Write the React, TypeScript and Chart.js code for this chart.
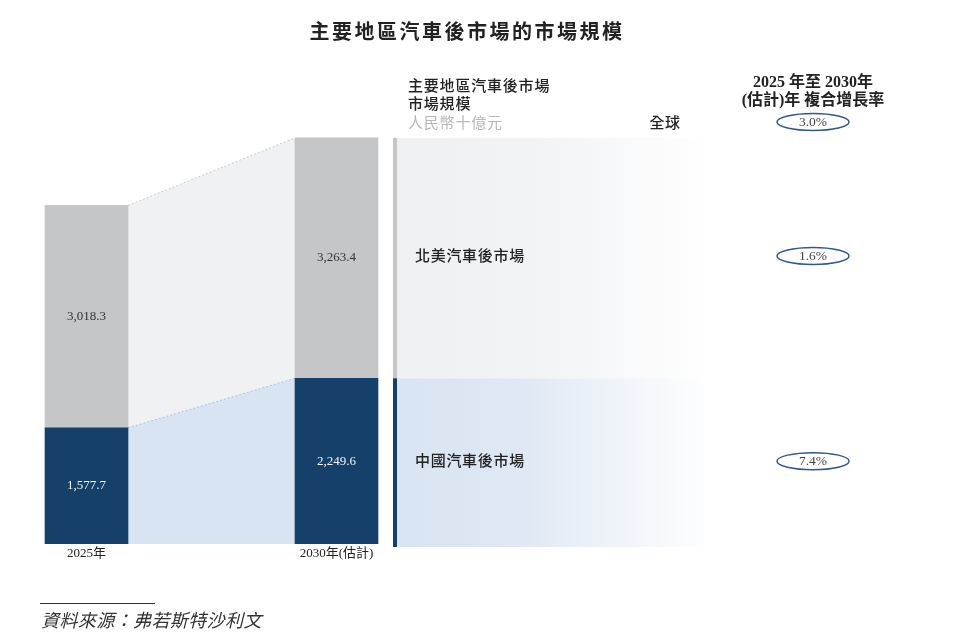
import { useEffect, useRef } from 'react';
import { Chart, registerables } from 'chart.js';

Chart.register(...registerables);

const categories = ['2025年', '2030年(估計)'];
const chinaValues = [1577.7, 2249.6];
const northAmericaValues = [3018.3, 3263.4];
const regionLabels = ['北美汽車後市場', '中國汽車後市場'];
const globalLabel = '全球';
const cagrGlobal = 3.0;
const cagrRegions = [1.6, 7.4];
const titleText = '主要地區汽車後市場的市場規模';
const headerLines = ['主要地區汽車後市場', '市場規模'];
const unitText = '人民幣十億元';
const cagrHeader = ['2025 年至 2030年', '(估計)年 複合增長率'];
const sourceText = '資料來源：弗若斯特沙利文';

const SANS = '"Noto Sans CJK TC", "Noto Sans", sans-serif';
const SERIF = '"Liberation Serif", "Noto Sans CJK TC", serif';

const NAVY = '#15406a';
const GRAY = '#c5c6c8';
const LIGHT_BLUE = '#d9e4f2';
const LIGHT_GRAY = '#f0f1f3';

// layout positions on the x scale (category index units)
const PANEL_START = 1.226;
const PANEL_END = 2.502;
const HEADER_X = 1.286;
const REGION_LABEL_X = 1.314;
const GLOBAL_X = 2.314;
const CAGR_X = 2.906;

const fmt = (v: number) => v.toLocaleString('en-US', { minimumFractionDigits: 1, maximumFractionDigits: 1 });

function poly(ctx: CanvasRenderingContext2D, pts: number[][], fill: string) {
  ctx.beginPath();
  ctx.moveTo(pts[0][0], pts[0][1]);
  for (let i = 1; i < pts.length; i++) ctx.lineTo(pts[i][0], pts[i][1]);
  ctx.closePath();
  ctx.fillStyle = fill;
  ctx.fill();
}

function text(ctx: CanvasRenderingContext2D, s: string, x: number, y: number, font: string, color: string, align: CanvasTextAlign = 'left', spacing = 0) {
  ctx.save();
  ctx.font = font;
  ctx.fillStyle = color;
  ctx.textAlign = align;
  ctx.textBaseline = 'middle';
  (ctx as any).letterSpacing = spacing + 'px';
  ctx.fillText(s, x, y);
  ctx.restore();
}

function props(chart: any, i: number) {
  return chart.getDatasetMeta(i).data.map((e: any) => e.getProps(['x', 'y', 'base', 'width'], true));
}

const decor = {
  id: 'decor',
  beforeDatasetsDraw(chart: any) {
    const ctx: CanvasRenderingContext2D = chart.ctx;
    const xs = chart.scales.x;
    const c = props(chart, 0);
    const n = props(chart, 1);
    const lx = c[0].x + c[0].width / 2;
    const rx = c[1].x - c[1].width / 2;
    ctx.save();
    poly(ctx, [[lx, n[0].y], [rx, n[1].y], [rx, c[1].y], [lx, c[0].y]], LIGHT_GRAY);
    poly(ctx, [[lx, c[0].y], [rx, c[1].y], [rx, c[1].base], [lx, c[0].base]], LIGHT_BLUE);
    ctx.setLineDash([2, 2]);
    ctx.lineWidth = 1;
    ctx.strokeStyle = '#c9cacc';
    ctx.beginPath();
    ctx.moveTo(lx, n[0].y);
    ctx.lineTo(rx, n[1].y);
    ctx.stroke();
    ctx.strokeStyle = '#a9c3e4';
    ctx.beginPath();
    ctx.moveTo(lx, c[0].y);
    ctx.lineTo(rx, c[1].y);
    ctx.stroke();
    ctx.setLineDash([]);

    // right panel
    const p0 = xs.getPixelForValue(PANEL_START);
    const p1 = xs.getPixelForValue(PANEL_END);
    const gTop = ctx.createLinearGradient(p0, 0, p1, 0);
    gTop.addColorStop(0, '#eff0f2');
    gTop.addColorStop(0.45, '#f2f3f5');
    gTop.addColorStop(1, '#ffffff');
    ctx.fillStyle = gTop;
    ctx.fillRect(p0, n[1].y, p1 - p0, n[1].base - n[1].y);
    const gBot = ctx.createLinearGradient(p0, 0, p1, 0);
    gBot.addColorStop(0, LIGHT_BLUE);
    gBot.addColorStop(0.4, '#dfe8f4');
    gBot.addColorStop(1, '#ffffff');
    ctx.fillStyle = gBot;
    ctx.fillRect(p0, c[1].y, p1 - p0, c[1].base - c[1].y + 3);
    ctx.fillStyle = GRAY;
    ctx.fillRect(p0, n[1].y, 4, n[1].base - n[1].y);
    ctx.fillStyle = NAVY;
    ctx.fillRect(p0, c[1].y, 4, c[1].base - c[1].y + 3);
    ctx.restore();
  },
  afterDatasetsDraw(chart: any) {
    const ctx: CanvasRenderingContext2D = chart.ctx;
    const xs = chart.scales.x;
    const c = props(chart, 0);
    const n = props(chart, 1);
    // bar value labels
    c.forEach((b: any, i: number) => {
      text(ctx, fmt(chinaValues[i]), b.x, (b.y + b.base) / 2, `13px ${SERIF}`, '#f2f5f9', 'center');
    });
    n.forEach((b: any, i: number) => {
      text(ctx, fmt(northAmericaValues[i]), b.x, (b.y + b.base) / 2, `13px ${SERIF}`, '#333333', 'center');
    });
    // category labels
    categories.forEach((cat, i) => {
      text(ctx, cat, c[i].x, c[i].base + 10, `13px ${SERIF}`, '#222222', 'center');
    });
    // region labels
    const rl = xs.getPixelForValue(REGION_LABEL_X);
    text(ctx, regionLabels[0], rl, (n[1].y + n[1].base) / 2 - 3, `500 15px ${SANS}`, '#222222', 'left', 0.7);
    text(ctx, regionLabels[1], rl, (c[1].y + c[1].base) / 2 - 1, `500 15px ${SANS}`, '#222222', 'left', 0.7);

    // headers
    const hx = xs.getPixelForValue(HEADER_X);
    text(ctx, headerLines[0], hx, 85, `500 15px ${SANS}`, '#222222', 'left', 0.8);
    text(ctx, headerLines[1], hx, 103, `500 15px ${SANS}`, '#222222', 'left', 0.8);
    text(ctx, unitText, hx, 122, `15px ${SANS}`, '#b8b8b8', 'left', 0.8);
    text(ctx, globalLabel, xs.getPixelForValue(GLOBAL_X), 122, `500 15px ${SANS}`, '#222222', 'center', 0.5);

    const cx = xs.getPixelForValue(CAGR_X);
    text(ctx, cagrHeader[0], cx, 83, `bold 16px ${SERIF}`, '#222222', 'center');
    text(ctx, cagrHeader[1], cx, 101, `bold 16px ${SERIF}`, '#222222', 'center');
    const ell = (y: number, v: number) => {
      ctx.save();
      ctx.beginPath();
      ctx.ellipse(cx, y, 36, 8.5, 0, 0, Math.PI * 2);
      ctx.lineWidth = 1.5;
      ctx.strokeStyle = '#2d5693';
      ctx.stroke();
      ctx.restore();
      text(ctx, v.toFixed(1) + '%', cx, y + 0.5, `13.5px ${SERIF}`, '#444444', 'center');
    };
    ell(122, cagrGlobal);
    ell((n[1].y + n[1].base) / 2 - 2, cagrRegions[0]);
    ell((c[1].y + c[1].base) / 2, cagrRegions[1]);

    // title
    text(ctx, titleText, 467, 31, `bold 20px ${SANS}`, '#222222', 'center', 2.5);

    // source
    ctx.save();
    ctx.strokeStyle = '#333333';
    ctx.lineWidth = 1;
    ctx.beginPath();
    ctx.moveTo(40, 603.5);
    ctx.lineTo(155, 603.5);
    ctx.stroke();
    ctx.restore();
    text(ctx, sourceText, 41, 620, `italic 18px ${SANS}`, '#333333', 'left', 0.4);
  },
};

export default function App() {
  const ref = useRef<HTMLCanvasElement>(null);
  useEffect(() => {
    if (!ref.current) return;
    const chart = new Chart(ref.current, {
      type: 'bar',
      data: {
        datasets: [
          {
            label: '中國汽車後市場',
            data: chinaValues.map((v, i) => ({ x: i, y: v })),
            backgroundColor: NAVY,
            barThickness: 83,
          },
          {
            label: '北美汽車後市場',
            data: northAmericaValues.map((v, i) => ({ x: i, y: v })),
            backgroundColor: GRAY,
            barThickness: 83,
          },
        ],
      },
      options: {
        animation: false,
        responsive: true,
        maintainAspectRatio: false,
        layout: { padding: { top: 102, bottom: 88, left: 0, right: 0 } },
        plugins: { legend: { display: false }, tooltip: { enabled: false }, title: { display: false } },
        scales: {
          x: { type: 'linear', min: -0.346, max: 3.478, offset: false, stacked: true, display: false },
          y: { min: 0, max: 6000, stacked: true, display: false },
        },
      },
      plugins: [decor],
    });
    return () => chart.destroy();
  }, []);
  return (
    <div style={{ position: 'fixed', left: 0, top: 0, width: 956, height: 632, background: '#ffffff' }}>
      <canvas ref={ref} />
    </div>
  );
}
